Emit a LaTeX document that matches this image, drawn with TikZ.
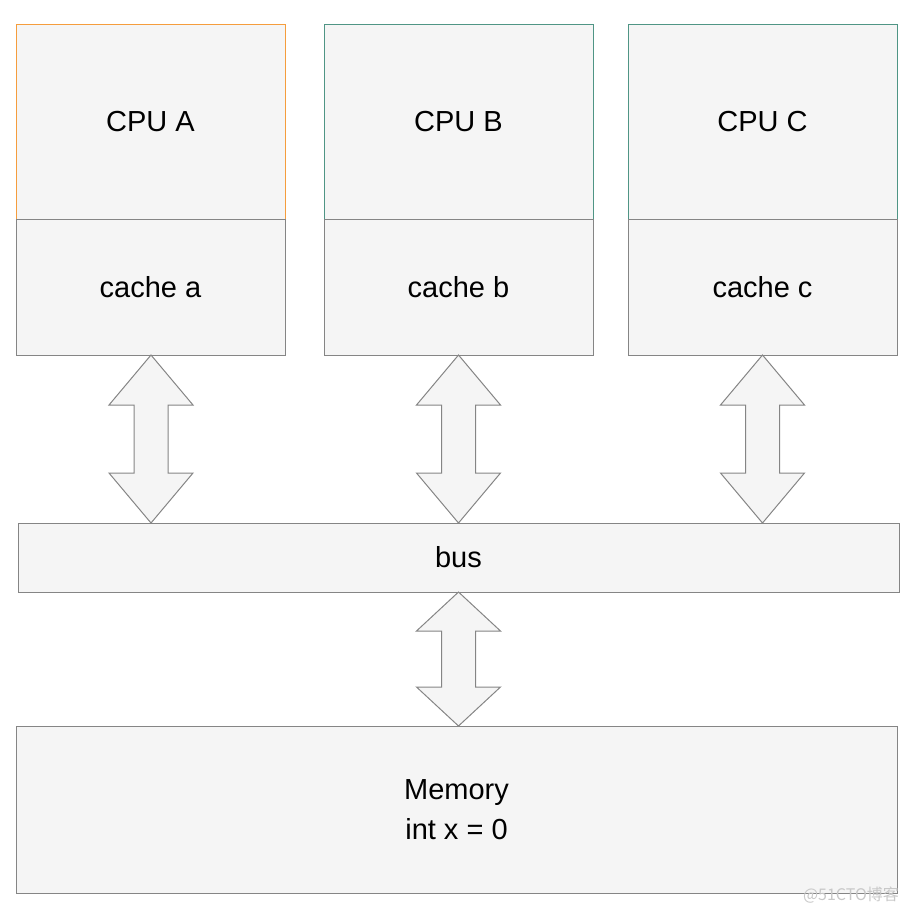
\documentclass[tikz,border=0pt]{standalone}
\usepackage{fontspec}
\setmainfont{Liberation Sans}
\newfontfamily\cjk{Noto Sans CJK SC}
\usetikzlibrary{calc}
\definecolor{boxfill}{HTML}{F5F5F5}
\definecolor{boxline}{HTML}{858585}
\definecolor{orangeline}{HTML}{F59D3D}
\definecolor{tealline}{HTML}{4F9585}
\definecolor{wmark}{HTML}{C8C8C8}
\tikzset{
  box/.style={draw=boxline, fill=boxfill, line width=1pt, rectangle, inner sep=0pt, outer sep=0pt,
    anchor=north west, font=\fontsize{29}{33}\selectfont, align=center},
  cpubox/.style={box, minimum width=269pt, minimum height=195pt},
  cachebox/.style={box, minimum width=269pt, minimum height=136pt},
  arr/.style={draw=boxline, fill=boxfill, line width=1pt, line join=miter},
}
\newcommand\dblarrow[3]{%
  \draw[arr] (#1) -- ($(#1)+(42,-#3)$) -- ($(#1)+(17,-#3)$) -- ($(#2)+(17,#3)$)
    -- ($(#2)+(42,#3)$) -- (#2) -- ($(#2)+(-42,#3)$) -- ($(#2)+(-17,#3)$)
    -- ($(#1)+(-17,-#3)$) -- ($(#1)+(-42,-#3)$) -- cycle;}
\begin{document}
\begin{tikzpicture}[x=1pt,y=1pt]
\useasboundingbox (0,0) rectangle (910,-914);
% CPUs
\node[cpubox, draw=orangeline] (cpuA) at (16,-24) {CPU A};
\node[cpubox, draw=tealline] (cpuB) at (324,-24) {CPU B};
\node[cpubox, draw=tealline] (cpuC) at (628,-24) {CPU C};
\node[cachebox] (ca) at (16,-219) {\raisebox{-2pt}{cache a}};
\node[cachebox] (cb) at (324,-219) {\raisebox{-2pt}{cache b}};
\node[cachebox] (cc) at (628,-219) {\raisebox{-2pt}{cache c}};
% bus
\node[box, minimum width=881pt, minimum height=69pt] (bus) at (18,-523) {\raisebox{-2pt}{bus}};
% memory
\node[box, minimum width=881pt, minimum height=167pt, font=\fontsize{29}{40}\selectfont] (mem) at (16,-726) {Memory\\int x = 0};
% arrows
\coordinate (ta) at ($(ca.south)+(0.5,0)$);
\coordinate (tb) at ($(cb.south)+(0,0)$);
\coordinate (tc) at ($(cc.south)+(0,0)$);
\coordinate (ba) at (bus.north -| ta);
\coordinate (bb) at (bus.north -| tb);
\coordinate (bc) at (bus.north -| tc);
\coordinate (bm) at (bus.south -| tb);
\coordinate (mm) at (mem.north -| tb);
\dblarrow{ta}{ba}{50}
\dblarrow{tb}{bb}{50}
\dblarrow{tc}{bc}{50}
\dblarrow{bm}{mm}{39}
% watermark
\node[text=wmark, font=\cjk\fontsize{16}{16}\selectfont, inner sep=0pt] (wm) at (851,-895) {@51CTO博客};
\end{tikzpicture}
\end{document}
